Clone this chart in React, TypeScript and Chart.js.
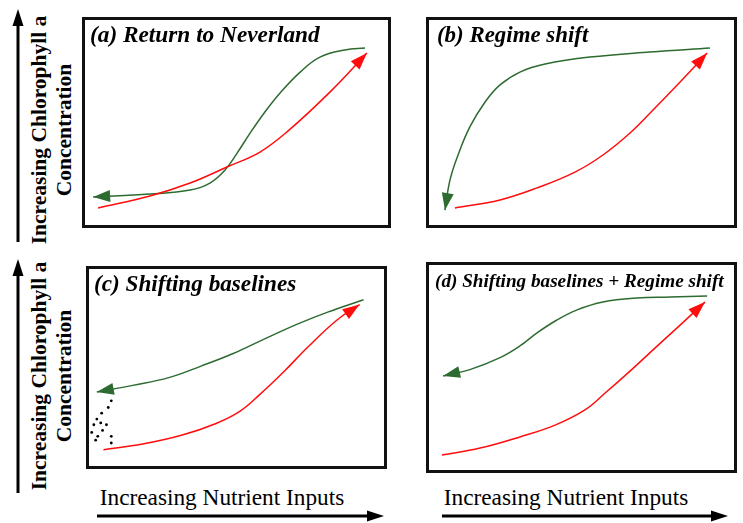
import React, { useEffect, useRef } from "react";
import { Chart, registerables } from "chart.js";

Chart.register(...registerables);

type P = { x: number; y: number };
const pts = (a: number[][]): P[] => a.map(([x, y]) => ({ x, y }));

// Panel titles
const titles = [
  "(a) Return to Neverland",
  "(b) Regime shift",
  "(c) Shifting baselines",
  "(d) Shifting baselines + Regime shift",
];
const yAxisLabel = ["Increasing Chlorophyll a", "Concentration"];
const xAxisLabel = "Increasing Nutrient Inputs";

// Curves, in 0–100 relative units (x: nutrient inputs, y: chlorophyll a)
const redA = pts([[5.2, 9.5], [22.0, 15.2], [35.0, 21.3], [46.9, 28.9], [57.6, 36.0], [66.7, 46.0], [80.3, 64.5], [92.2, 82.9]]);
const greenA = pts([[91.6, 85.3], [85.1, 84.4], [77.0, 81.0], [70.6, 73.9], [64.1, 64.0], [59.2, 55.0], [54.4, 45.0], [50.2, 35.5], [46.3, 27.5], [41.4, 21.3], [35.0, 18.0], [22.0, 16.1], [3.6, 14.7]]);

const redB = pts([[9.3, 9.5], [23.8, 13.3], [35.7, 19.0], [47.9, 26.5], [56.9, 34.6], [65.6, 45.0], [73.0, 55.9], [81.7, 69.2], [90.4, 82.9]]);
const greenB = pts([[91.3, 85.3], [72.0, 83.4], [52.7, 81.0], [38.3, 77.7], [30.2, 73.9], [23.8, 67.8], [19.0, 59.7], [14.1, 47.9], [10.3, 34.6], [7.7, 22.7], [6.1, 8.5]]);

const redC = pts([[5.8, 9.5], [18.8, 12.3], [31.7, 16.6], [43.0, 22.3], [51.1, 28.4], [57.6, 36.5], [65.7, 47.9], [73.8, 60.2], [83.5, 73.5], [90.9, 81.0]]);
const greenC = pts([[92.2, 83.4], [80.3, 77.3], [70.6, 71.6], [59.2, 64.0], [48.9, 56.9], [38.2, 50.7], [27.5, 45.0], [15.5, 41.2], [3.6, 37.9]]);
const dotsC = pts([[8.4, 33.6], [7.4, 30.3], [5.2, 27.5], [3.6, 24.6], [2.6, 21.8], [4.9, 22.7], [6.8, 21.8], [1.9, 18.0], [5.5, 19.0], [3.9, 16.1], [8.4, 16.1], [3.2, 14.2], [8.4, 12.8]]);

const redD = pts([[5.1, 8.5], [17.4, 11.8], [30.2, 17.1], [41.5, 22.7], [51.1, 29.9], [57.6, 37.9], [65.6, 48.3], [73.6, 59.2], [81.7, 70.1], [89.7, 81.0]]);
const greenD = pts([[90.4, 83.9], [78.5, 83.4], [67.8, 82.9], [56.9, 81.0], [48.6, 77.3], [42.1, 72.5], [35.7, 66.4], [30.2, 60.2], [24.0, 54.8], [14.1, 49.0], [5.5, 46.0]]);

const RED = "#ff0d0d";
const GREEN = "#2d6b31";
const SERIF = "'Liberation Serif', 'DejaVu Serif', serif";

const decoPlugin = {
  id: "panelDeco",
  afterDatasetsDraw(chart: any, _args: any, opts: any) {
    const ctx = chart.ctx as CanvasRenderingContext2D;
    const { left, top, right, bottom } = chart.chartArea;
    chart.data.datasets.forEach((ds: any, i: number) => {
      if (!ds.arrowHead) return;
      const el = chart.getDatasetMeta(i).data;
      const n = el.length;
      const a = el[n - 1];
      const b = el[n - 2];
      const ang = Math.atan2(a.y - b.y, a.x - b.x);
      const L = 17;
      const W = 6;
      ctx.save();
      ctx.translate(a.x, a.y);
      ctx.rotate(ang);
      ctx.beginPath();
      ctx.moveTo(0, 0);
      ctx.lineTo(-L, -W);
      ctx.lineTo(-L, W);
      ctx.closePath();
      ctx.fillStyle = ds.borderColor;
      ctx.fill();
      ctx.restore();
    });
    ctx.save();
    ctx.lineWidth = 3;
    ctx.strokeStyle = "#111";
    ctx.strokeRect(left + 1.5, top + 1.5, right - left - 3, bottom - top - 3);
    ctx.fillStyle = "#000";
    ctx.font = `bold italic ${opts.size}px ${SERIF}`;
    ctx.textBaseline = "alphabetic";
    ctx.fillText(opts.text, left + opts.dx, top + 25);
    ctx.restore();
  },
};

type PanelProps = {
  left: number; top: number; w: number; h: number;
  title: string; size: number; dx: number;
  red: P[]; green: P[]; dots?: P[];
};

function Panel(p: PanelProps) {
  const ref = useRef<HTMLCanvasElement>(null);
  useEffect(() => {
    const datasets: any[] = [
      { data: p.red, borderColor: RED, borderWidth: 1.5, pointRadius: 0, tension: 0.4, fill: false, arrowHead: true },
      { data: p.green, borderColor: GREEN, borderWidth: 1.5, pointRadius: 0, tension: 0.4, fill: false, arrowHead: true },
    ];
    if (p.dots) {
      datasets.push({ data: p.dots, showLine: false, pointRadius: 1.4, pointBorderWidth: 0, pointBackgroundColor: "#000", borderColor: "#000" });
    }
    const chart = new Chart(ref.current!, {
      type: "line",
      data: { datasets },
      options: {
        animation: false,
        responsive: false,
        layout: { padding: 0 },
        events: [],
        scales: {
          x: { type: "linear", min: 0, max: 100, display: false },
          y: { type: "linear", min: 0, max: 100, display: false },
        },
        plugins: {
          legend: { display: false },
          tooltip: { enabled: false },
          panelDeco: { text: p.title, size: p.size, dx: p.dx },
        } as any,
      },
      plugins: [decoPlugin],
    });
    return () => chart.destroy();
  }, []);
  return (
    <canvas
      ref={ref}
      width={p.w}
      height={p.h}
      style={{ position: "absolute", left: p.left, top: p.top, width: p.w, height: p.h }}
    />
  );
}

function YLabel({ cy }: { cy: number }) {
  return (
    <div
      style={{
        position: "absolute", left: 52, top: cy, transform: "translate(-50%, -50%) rotate(-90deg)",
        fontFamily: SERIF, fontWeight: "bold", fontSize: 21.5, lineHeight: "25px",
        textAlign: "center", whiteSpace: "nowrap", color: "#000",
      }}
    >
      {yAxisLabel[0]}<br />{yAxisLabel[1]}
    </div>
  );
}

function XLabel({ cx }: { cx: number }) {
  return (
    <div
      style={{
        position: "absolute", left: cx, top: 497, transform: "translate(-50%, -50%)",
        fontFamily: SERIF, fontSize: 23.3, whiteSpace: "nowrap", color: "#000",
      }}
    >
      {xAxisLabel}
    </div>
  );
}

export default function App() {
  return (
    <div style={{ position: "absolute", left: 0, top: 0, width: 743, height: 523, background: "#fff", overflow: "hidden" }}>
      <Panel left={82} top={17} w={309} h={211} title={titles[0]} size={23.3} dx={8} red={redA} green={greenA} />
      <Panel left={426} top={17} w={311} h={211} title={titles[1]} size={22.9} dx={11} red={redB} green={greenB} />
      <Panel left={82} top={262} w={309} h={211} title={titles[2]} size={23.2} dx={8} red={redC} green={greenC} dots={dotsC} />
      <Panel left={426} top={262} w={311} h={211} title={titles[3]} size={19.2} dx={9} red={redD} green={greenD} />
      <YLabel cy={130} />
      <YLabel cy={376} />
      <XLabel cx={222} />
      <XLabel cx={566} />
      <svg width={743} height={523} style={{ position: "absolute", left: 0, top: 0, pointerEvents: "none" }}>
        <line x1={18} y1={242} x2={18} y2={24} stroke="#000" strokeWidth={3} />
        <polygon points="18,9 12.5,26 23.5,26" fill="#000" />
        <line x1={18} y1={493} x2={18} y2={275} stroke="#000" strokeWidth={3} />
        <polygon points="18,259 12.5,276 23.5,276" fill="#000" />
        <line x1={97} y1={516} x2={370} y2={516} stroke="#000" strokeWidth={3} />
        <polygon points="384,516 367,510.5 367,521.5" fill="#000" />
        <line x1={442} y1={516} x2={714} y2={516} stroke="#000" strokeWidth={3} />
        <polygon points="728,516 711,510.5 711,521.5" fill="#000" />
      </svg>
    </div>
  );
}
